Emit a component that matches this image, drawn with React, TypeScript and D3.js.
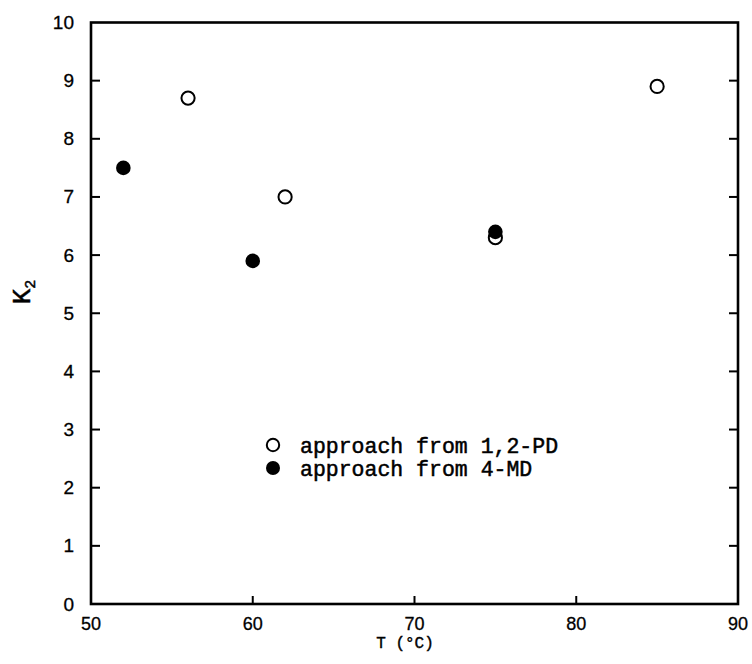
import React from "react";
import * as d3 from "d3";

const xTicks = [50, 60, 70, 80, 90];
const yTicks = [0, 1, 2, 3, 4, 5, 6, 7, 8, 9, 10];

const openT = [56, 62, 75, 85];
const openK = [8.7, 7.0, 6.3, 8.9];

const filledT = [52, 60, 75];
const filledK = [7.5, 5.9, 6.4];

const legendLabels = ["approach from 1,2-PD", "approach from 4-MD"];

const W = 752;
const H = 664;
const L = 91;
const R = 738;
const T = 22.5;
const B = 604;

export default function App() {
  const x = d3.scaleLinear().domain([50, 90]).range([L, R]);
  const y = d3.scaleLinear().domain([0, 10]).range([B, T]);
  const sw = 2.6;
  const tickLen = 9;
  const serif = "'Liberation Mono', 'Courier New', monospace";
  const sans = "'Liberation Sans', Arial, sans-serif";
  const innerY = yTicks.filter((v) => v > 0 && v < 10);
  const innerX = xTicks.filter((v) => v > 50 && v < 90);
  const openPts = openT.map((t, i) => [t, openK[i]]);
  const filledPts = filledT.map((t, i) => [t, filledK[i]]);
  return (
    <svg
      width={W}
      height={H}
      style={{ position: "absolute", left: 0, top: 0, background: "#fff" }}
    >
      <rect x={0} y={0} width={W} height={H} fill="#fff" />
      {/* frame */}
      <rect
        x={L}
        y={T}
        width={R - L}
        height={B - T}
        fill="none"
        stroke="#000"
        strokeWidth={sw}
      />
      {/* left & right ticks */}
      {innerY.map((v) => (
        <g key={"yt" + v}>
          <line x1={L} x2={L + tickLen} y1={y(v)} y2={y(v)} stroke="#000" strokeWidth={2} />
          <line x1={R} x2={R - tickLen} y1={y(v)} y2={y(v)} stroke="#000" strokeWidth={2} />
        </g>
      ))}
      {/* bottom ticks */}
      {innerX.map((v) => (
        <line key={"xt" + v} x1={x(v)} x2={x(v)} y1={B} y2={B - 8} stroke="#000" strokeWidth={2} />
      ))}
      {/* y tick labels */}
      {yTicks.map((v) => (
        <text
          key={"yl" + v}
          x={L - 17}
          y={y(v)}
          textAnchor="end"
          dominantBaseline="central"
          fontFamily={sans}
          fontSize={19}
          stroke="#000"
          strokeWidth={0.3}
          fill="#000"
        >
          {v}
        </text>
      ))}
      {/* x tick labels */}
      {xTicks.map((v) => (
        <text
          key={"xl" + v}
          x={x(v)}
          y={B + 20}
          textAnchor="middle"
          dominantBaseline="central"
          fontFamily={sans}
          fontSize={18}
          stroke="#000"
          strokeWidth={0.3}
          fill="#000"
        >
          {v}
        </text>
      ))}
      {/* axis titles */}
      <text
        x={405}
        y={648}
        textAnchor="middle"
        fontFamily={serif}
        fontSize={16}
        stroke="#000"
        strokeWidth={0.4}
        fill="#000"
      >
        T (°C)
      </text>
      <text
        transform={`translate(30, 292) rotate(-90)`}
        textAnchor="middle"
        fontFamily={serif}
        fontSize={26}
        stroke="#000"
        strokeWidth={0.5}
        fill="#000"
      >
        K
        <tspan fontSize={15} dy={5}>2</tspan>
      </text>
      {/* data */}
      {openPts.map(([t, k], i) => (
        <circle
          key={"o" + i}
          cx={x(t)}
          cy={y(k)}
          r={6.6}
          fill="#fff"
          stroke="#000"
          strokeWidth={2}
        />
      ))}
      {filledPts.map(([t, k], i) => (
        <circle key={"f" + i} cx={x(t)} cy={y(k)} r={7.3} fill="#000" />
      ))}
      {/* legend */}
      <circle cx={273} cy={445} r={6.2} fill="#fff" stroke="#000" strokeWidth={2} />
      <circle cx={273} cy={468} r={7} fill="#000" />
      <text x={300} y={453} fontFamily={serif} fontSize={21.5} stroke="#000" strokeWidth={0.5} fill="#000">
        {legendLabels[0]}
      </text>
      <text x={300} y={476} fontFamily={serif} fontSize={21.5} stroke="#000" strokeWidth={0.5} fill="#000">
        {legendLabels[1]}
      </text>
    </svg>
  );
}
